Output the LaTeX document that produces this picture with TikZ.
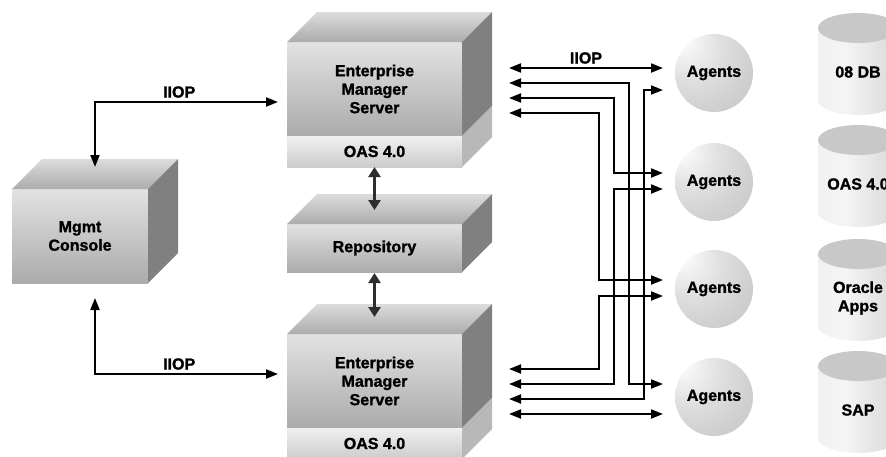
\documentclass[tikz,border=0pt]{standalone}
\usepackage{fontspec}
\setmainfont{Liberation Sans}[BoldFeatures={FakeBold=1.4}]
\usetikzlibrary{arrows.meta,positioning}

\definecolor{facelight}{HTML}{E2E2E2}
\definecolor{facedark}{HTML}{ABABAB}
\definecolor{toplight}{HTML}{DCDCDC}
\definecolor{topdark}{HTML}{ACACAC}
\definecolor{sidegray}{HTML}{808080}
\definecolor{bandlight}{HTML}{F0F0F0}
\definecolor{banddark}{HTML}{CCCCCC}
\definecolor{bandside}{HTML}{B8B8B8}
\definecolor{cylcap}{HTML}{C8C8C8}
\definecolor{arrowgray}{HTML}{2E2E2E}

\pgfdeclareradialshading{agentball}{\pgfpoint{-22bp}{22bp}}{%
	color(0bp)=(white); color(8bp)=(white!95!black); color(20bp)=(white!88!black);
	color(34bp)=(white!82!black); color(52bp)=(white!76!black); color(78bp)=(white!69!black)}
\pgfdeclarehorizontalshading{dbbody}{100bp}{%
	color(0bp)=(white!58!black); color(6bp)=(white!68!black); color(14bp)=(white!80!black);
	color(22bp)=(white!94!black); color(42bp)=(white!96!black); color(62bp)=(white!89!black);
	color(100bp)=(white!80!black)}

% 3d faces of a box, drawn from the front node
\newcommand{\boxtop}[1]{\shade[top color=toplight, bottom color=topdark] (#1.north west) -- ++(30,-30) -- ([shift={(30,-30)}]#1.north east) -- (#1.north east) -- cycle;}
\newcommand{\boxside}[2]{\fill[#2] (#1.north east) -- ++(30,-30) -- ([shift={(30,-30)}]#1.south east) -- (#1.south east) -- cycle;}
% database drum: name, middle, label
\newcommand{\database}[3]{%
	\shade[shading=dbbody] (818,#2-36) rectangle (898,#2+36);
	\shade[shading=dbbody] (858,#2+36) ellipse [x radius=40pt, y radius=15pt];
	\fill[cylcap] (858,#2-36) ellipse [x radius=40pt, y radius=15pt];
	\node[align=center] (#1) at (858,#2+8) {#3};}

\begin{document}
\begin{tikzpicture}[x=1pt, y=-1pt,
	font=\fontsize{16pt}{18.5pt}\selectfont\bfseries,
	front/.style={rectangle, inner sep=0pt, outer sep=0pt, align=center, top color=facelight, bottom color=facedark, minimum width=175pt},
	band/.style={front, top color=bandlight, bottom color=banddark, minimum height=31pt},
	agent/.style={circle, inner sep=0pt, minimum size=78pt, shade, shading=agentball},
	link/.style={line width=2pt, {Triangle[length=12pt,width=9pt]}-{Triangle[length=12pt,width=9pt]}},
	repolink/.style={draw=arrowgray, line width=3.5pt, {Triangle[length=10pt,width=12pt]}-{Triangle[length=10pt,width=12pt]}}]
	\useasboundingbox (0,0) rectangle (886,456);
	\clip (0,0) rectangle (886,456);

	% boxes
	\node[front, minimum width=136pt, minimum height=94pt] (mgmt) at (80,236) {Mgmt\\Console};
	\node[front, minimum height=94pt] (srvA) at (374.5,89) {Enterprise\\Manager\\Server};
	\node[band, below=0pt of srvA] (oasA) {OAS 4.0};
	\node[front, minimum height=48pt] (repo) at (374.5,248) {Repository};
	\node[front, minimum height=94pt] (srvB) at (374.5,381) {Enterprise\\Manager\\Server};
	\node[band, below=0pt of srvB] (oasB) {OAS 4.0};

	\boxtop{mgmt} \boxside{mgmt}{sidegray}
	\boxtop{srvA} \boxside{srvA}{sidegray} \boxside{oasA}{bandside}
	\boxtop{repo} \boxside{repo}{sidegray}
	\boxtop{srvB} \boxside{srvB}{sidegray} \boxside{oasB}{bandside}

	% agents and data
	\node[agent] (ag1) at (714,73) {Agents};
	\node[agent] (ag2) at (714,182) {Agents};
	\node[agent] (ag3) at (714,289) {Agents};
	\node[agent] (ag4) at (714,397) {Agents};

	\database{db1}{64}{08 DB}
	\database{db2}{176}{OAS 4.0}
	\database{db3}{290}{Oracle\\Apps}
	\database{db4}{402}{SAP}

	% console links
	\coordinate (m1) at (95,167);
	\coordinate (m2) at (95,298);
	\coordinate (e1) at (278,102);
	\coordinate (e2) at (278,374);
	\draw[link] (m1) |- (e1) node[pos=0.73, above] {IIOP};
	\draw[link] (m2) |- (e2) node[pos=0.73, above] {IIOP};

	\draw[repolink] (oasA.south) -- ([yshift=14pt]repo.north);
	\draw[repolink] ([yshift=-1pt]repo.south) -- ([yshift=17pt]srvB.north);

	% agent links
	\coordinate (p1) at (509,68);
	\coordinate (p2) at (509,83);
	\coordinate (p3) at (509,98);
	\coordinate (p4) at (509,113);
	\coordinate (p5) at (509,369);
	\coordinate (p6) at (509,384);
	\coordinate (p7) at (509,399);
	\coordinate (p8) at (509,414);
	\coordinate (q1) at (663,68);
	\coordinate (q2) at (663,90);
	\coordinate (q3) at (663,173);
	\coordinate (q4) at (663,189);
	\coordinate (q5) at (663,280);
	\coordinate (q6) at (663,296);
	\coordinate (q7) at (663,384);
	\coordinate (q8) at (663,414);
	\coordinate (c1) at (599,0);
	\coordinate (c2) at (614,0);
	\coordinate (c3) at (629,0);
	\coordinate (c4) at (644,0);

	\draw[link] (p1) -- (q1) node[midway, above] {IIOP};
	\draw[link] (p2) -| (c3 |- q7) -- (q7);
	\draw[link] (p3) -| (c2 |- q3) -- (q3);
	\draw[link] (p4) -| (c1 |- q5) -- (q5);
	\draw[link] (q2) -| (c4 |- p7) -- (p7);
	\draw[link] (q4) -| (c2 |- p6) -- (p6);
	\draw[link] (q6) -| (c1 |- p5) -- (p5);
	\draw[link] (p8) -- (q8);
\end{tikzpicture}
\end{document}
